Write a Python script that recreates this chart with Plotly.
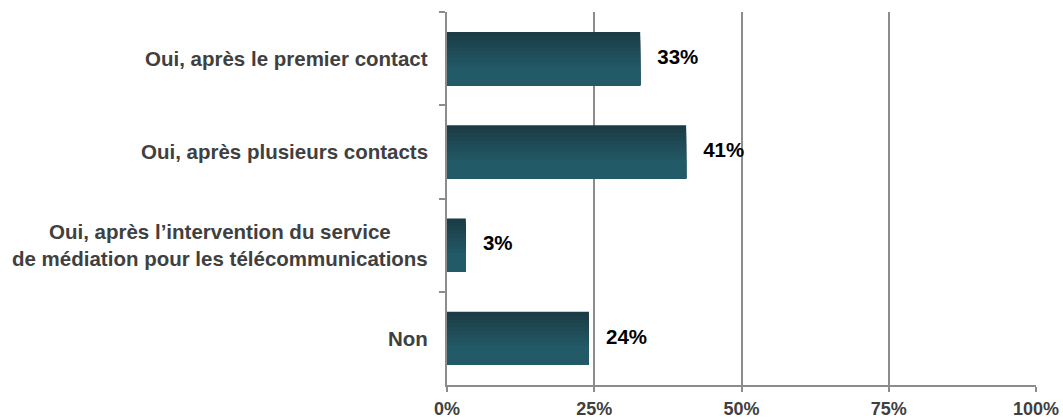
import plotly.graph_objects as go

categories = [
    "Oui, après le premier contact",
    "Oui, après plusieurs contacts",
    "Oui, après l’intervention du service<br>de médiation pour les télécommunications",
    "Non",
]
values = [32.8, 40.6, 3.2, 24.1]
value_labels = ["33%", "41%", "3%", "24%"]
x_ticks = [0, 25, 50, 75, 100]
x_tick_labels = ["0%", "25%", "50%", "75%", "100%"]

FONT = "Liberation Sans, Arial, sans-serif"
GRID = "#8c8c8c"

# vertical gradient: dark at the top, teal below
top_rgb = (0x1b, 0x3c, 0x45)
bot_rgb = (0x23, 0x5a, 0x67)
n_strips = 14
bar_w = 0.57
step = bar_w / n_strips

fig = go.Figure()
for i in range(n_strips):
    t = min(1.0, i / (n_strips - 1) / 0.7)
    r, g, b = [round(a + (c - a) * t) for a, c in zip(top_rgb, bot_rgb)]
    # each strip runs to the bottom of the bar, so the next one paints over it
    fig.add_trace(go.Bar(
        y=categories, x=values, orientation="h",
        width=bar_w - i * step,
        offset=-bar_w / 2 + i * step,
        marker=dict(color=f"rgb({r},{g},{b})", line_width=0),
        showlegend=False, hoverinfo="skip",
    ))

fig.add_trace(go.Scatter(
    y=categories, x=values, mode="text",
    text=[f"<b>{v}</b>" for v in value_labels],
    texttemplate="   %{text}",
    textposition="middle right",
    textfont=dict(family=FONT, size=20.5, color="#000000"),
    showlegend=False, hoverinfo="skip", cliponaxis=False,
))

for cat in categories:
    fig.add_annotation(
        xref="paper", x=0, yref="y", y=cat, text=f"<b>{cat}</b>",
        xanchor="right", xshift=-17, showarrow=False, align="center",
        font=dict(family=FONT, size=20.5, color="#404040"),
    )

fig.update_layout(
    width=1063, height=419,
    margin=dict(l=447, r=27, t=12, b=34),
    paper_bgcolor="white", plot_bgcolor="white",
    barmode="overlay",
    xaxis=dict(
        range=[0, 100], tickvals=x_ticks, ticktext=[f"<b>{t}</b>" for t in x_tick_labels],
        showgrid=True, gridcolor=GRID, gridwidth=2,
        showline=True, linecolor=GRID, linewidth=2,
        ticks="outside", ticklen=5, tickwidth=2, tickcolor=GRID,
        tickfont=dict(family=FONT, size=18, color="#404040"),
        ticklabelstandoff=1,
        zeroline=False, fixedrange=True, automargin=False,
    ),
    yaxis=dict(
        autorange="reversed", showticklabels=False,
        showline=True, linecolor=GRID, linewidth=2,
        ticks="outside", ticklen=6, tickwidth=2, tickcolor=GRID,
        tickson="boundaries", showgrid=False, zeroline=False, automargin=False,
    ),
)

# drop the browser's default body margin so the figure fills the window
fig.write_html(
    "out.html",
    config={"displayModeBar": False},
    post_script="document.body.style.margin='0';document.body.style.overflow='hidden';",
)
